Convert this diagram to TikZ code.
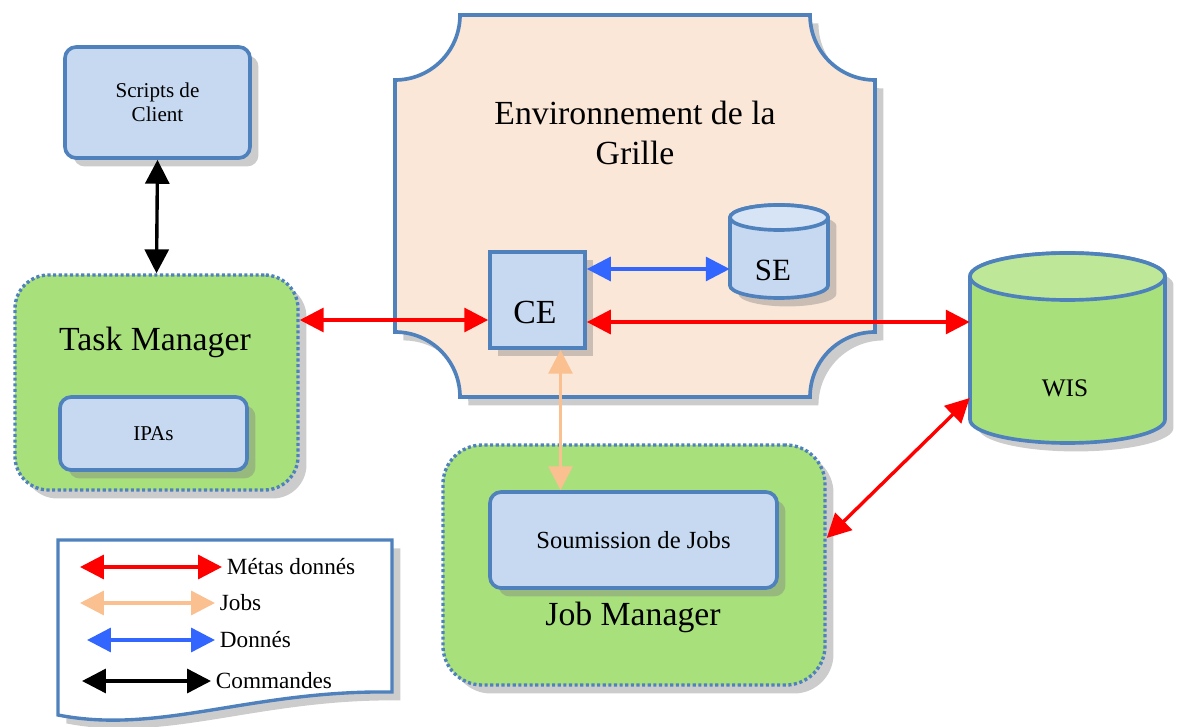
\documentclass[tikz,border=0pt]{standalone}
\usepackage{fontspec}
\setmainfont{Liberation Serif}
\usetikzlibrary{arrows.meta,shadows}
\definecolor{boxblue}{RGB}{198,217,241}
\definecolor{endblue}{RGB}{214,228,245}
\definecolor{lineblue}{RGB}{79,129,189}
\definecolor{mgreen}{RGB}{168,224,124}
\definecolor{topgreen}{RGB}{190,232,152}
\definecolor{gridpeach}{RGB}{251,231,216}
\definecolor{jobpeach}{RGB}{250,192,144}
\definecolor{datablue}{RGB}{51,102,255}
\newcommand\bigfont{\fontsize{24}{28}\selectfont}
\newcommand\midfont{\fontsize{17.5}{21}\selectfont}
\newcommand\smallfont{\fontsize{15}{17}\selectfont}
% drum: centre x, top ellipse y, bottom ellipse y, x radius, y radius, body fill, top fill
\newcommand\drum[7]{%
  \path[draw=lineblue,line width=2.6pt,fill=#6,shade]
    ({#1-#4},#2) -- ({#1-#4},#3)
    .. controls ({#1-#4},{#3+0.5523*#5}) and ({#1-0.5523*#4},{#3+#5}) .. (#1,{#3+#5})
    .. controls ({#1+0.5523*#4},{#3+#5}) and ({#1+#4},{#3+0.5523*#5}) .. ({#1+#4},#3)
    -- ({#1+#4},#2)
    .. controls ({#1+#4},{#2-0.5523*#5}) and ({#1+0.5523*#4},{#2-#5}) .. (#1,{#2-#5})
    .. controls ({#1-0.5523*#4},{#2-#5}) and ({#1-#4},{#2-0.5523*#5}) .. ({#1-#4},#2) -- cycle;
  \path[draw=lineblue,line width=2.6pt,fill=#7]
    ({#1-#4},#2)
    .. controls ({#1-#4},{#2-0.5523*#5}) and ({#1-0.5523*#4},{#2-#5}) .. (#1,{#2-#5})
    .. controls ({#1+0.5523*#4},{#2-#5}) and ({#1+#4},{#2-0.5523*#5}) .. ({#1+#4},#2)
    .. controls ({#1+#4},{#2+0.5523*#5}) and ({#1+0.5523*#4},{#2+#5}) .. (#1,{#2+#5})
    .. controls ({#1-0.5523*#4},{#2+#5}) and ({#1-#4},{#2+0.5523*#5}) .. ({#1-#4},#2) -- cycle;}
\begin{document}
\begin{tikzpicture}[x=0.025cm,y=-0.025cm,
    shade/.style={drop shadow={shadow xshift=6pt,shadow yshift=-6pt,opacity=0.4}},
    bluebox/.style={draw=lineblue,line width=2.6pt,fill=boxblue,rounded corners=8pt,shade,align=center},
    greenbox/.style={draw=lineblue,line width=2.4pt,dash pattern=on 2.2pt off 1.8pt,fill=mgreen,rounded corners=24pt,shade},
    anchorbox/.style={inner sep=0pt},
    link/.style={line width=2.4pt,{Triangle[width=17pt,length=17pt]}-{Triangle[width=17pt,length=17pt]}}]
  \useasboundingbox (0,0) rectangle (1189,727);

  % grille
  \path[draw=lineblue,line width=2.6pt,fill=gridpeach,shade]
    (460,15) -- (810,15) .. controls (810,51) and (839,80) .. (875,80)
    -- (875,332) .. controls (839,332) and (810,361) .. (810,397)
    -- (460,397) .. controls (460,361) and (431,332) .. (395,332)
    -- (395,80) .. controls (431,80) and (460,51) .. (460,15) -- cycle;
  \node[align=center,font=\bigfont] (grid) at (635,133) {Environnement de la\\Grille};

  % boites
  \node[bluebox,minimum width=4.625cm,minimum height=2.775cm,font=\smallfont] (scripts) at (157.5,102.5) {Scripts de\\Client};
  \node[greenbox,minimum width=7.075cm,minimum height=5.375cm] (tm) at (156.5,382.5) {};
  \node[font=\bigfont] (tmlabel) at (155,342) {Task Manager};
  \node[bluebox,minimum width=4.675cm,minimum height=1.825cm,font=\smallfont] (ipas) at (153.5,433.5) {IPAs};
  \node[bluebox,rounded corners=0pt,minimum width=2.375cm,minimum height=2.4cm] (ce) at (537.5,300) {};
  \node[font=\bigfont] (celabel) at (535,312) {CE};
  \drum{779}{217.5}{285.5}{49}{12.5}{boxblue}{endblue}
  \node[anchorbox,minimum width=2.45cm,minimum height=2.325cm] (se) at (779,251.5) {};
  \node[font=\fontsize{22}{26}\selectfont] (selabel) at (773,270) {SE};
  \drum{1067.5}{276.5}{419.5}{97.5}{23.5}{mgreen}{topgreen}
  \node[anchorbox,minimum width=4.875cm,minimum height=4.75cm] (wis) at (1067.5,348) {};
  \node[font=\fontsize{18}{21}\selectfont] (wislabel) at (1065,388) {WIS};
  \node[greenbox,rounded corners=28pt,minimum width=9.55cm,minimum height=6cm] (jm) at (634,565) {};
  \node[font=\bigfont] (jmlabel) at (633,617) {Job Manager};
  \node[bluebox,minimum width=7.175cm,minimum height=2.4cm,font=\midfont] (sj) at (633.5,540) {Soumission de Jobs};

  % liens
  \coordinate (cein) at ([yshift=-0.5cm]ce.west);
  \coordinate (ceout) at ([yshift=-0.55cm]ce.east);
  \coordinate (cese) at ([yshift=0.775cm]ce.east);
  \coordinate (cejob) at ([xshift=0.575cm]ce.south);
  \draw[link] (scripts.south) -- (tm.north);
  \draw[link,red] (tm.east |- cein) -- (cein);
  \draw[link,red] (ceout) -- (wis.west |- ceout);
  \draw[link,datablue] (cese) -- (se.west |- cese);
  \draw[link,jobpeach] (cejob) -- (cejob |- sj.north);
  \draw[link,red] ([yshift=0.675cm]jm.east) -- ([yshift=-1.25cm]wis.west);

  % legende
  \path[draw=lineblue,line width=2.4pt,fill=white,shade]
    (58,540) -- (392,540) -- (392,692) .. controls (250,690) and (160,735) .. (58,715) -- cycle;
  \foreach \c/\t/\y/\a/\b [count=\i] in {red/Métas donnés/567/80/222,jobpeach/Jobs/603/80/215,datablue/Donnés/640/87/215,black/Commandes/681/82/211} {
    \coordinate (key\i) at (\a,\y);
    \node[anchor=west,font=\fontsize{16.5}{19}\selectfont] (txt\i) at (\b,\y) {\t};
    \draw[link,\c] (key\i) -- (key\i -| txt\i.west);
  }
\end{tikzpicture}
\end{document}
